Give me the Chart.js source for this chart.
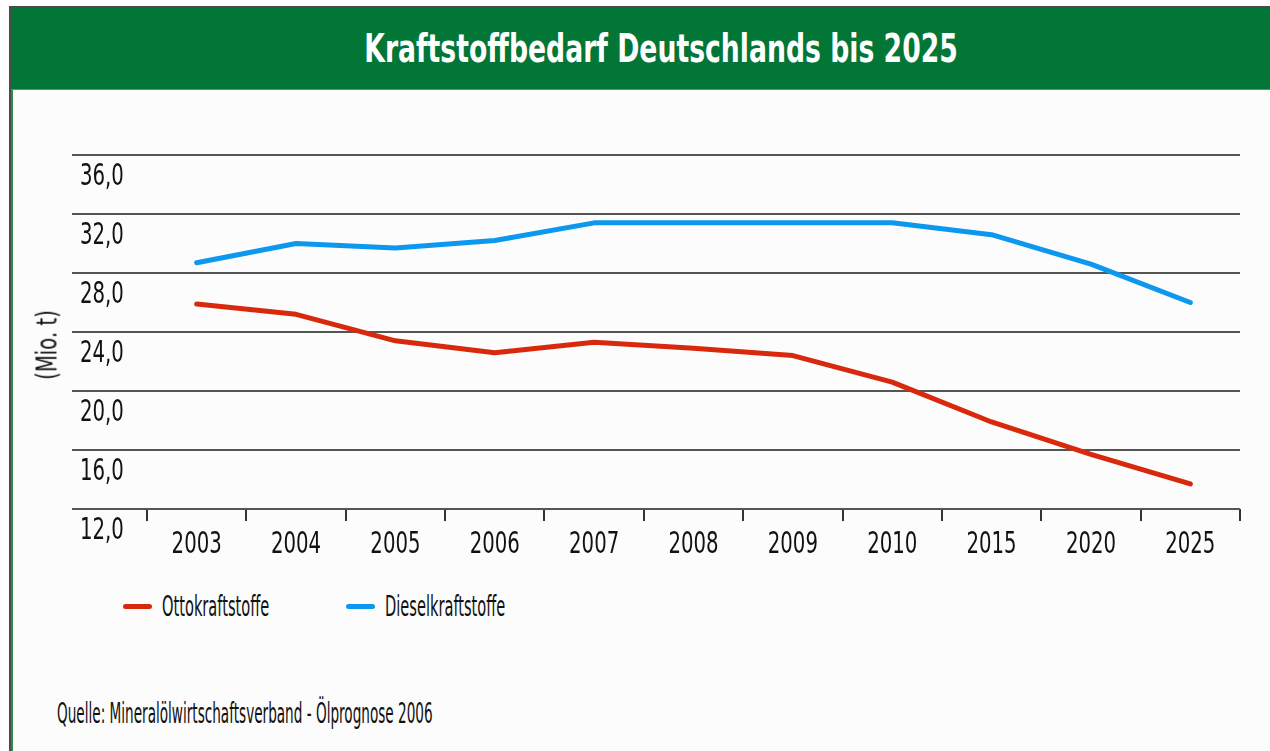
<!DOCTYPE html>
<html>
<head>
<meta charset="utf-8">
<script src="https://cdn.jsdelivr.net/npm/chart.js@4.4.1/dist/chart.umd.min.js"></script>
<style>
  body { margin: 0; background: #ffffff; width: 1270px; height: 751px; overflow: hidden; position: relative;
         font-family: 'DejaVu Sans Condensed', 'Liberation Sans Narrow', sans-serif; }
  #frame { position: absolute; left: 9px; top: 6px; right: 0; bottom: 0; background: #fcfcfc;
           border-top: 2px solid #4a4a4a; border-left: 2px solid #4a4a4a; }
  #greenline { position: absolute; left: 11px; top: 8px; bottom: 0; width: 2px; background: #2f8a4c; }
  #header { position: absolute; left: 11px; top: 8px; right: 0; height: 81px; background: #027636;
            border-bottom: 1px solid #4f9e6a; }
  #title { position: absolute; left: 650px; top: 18px; transform: translateX(-50%) scaleX(0.76); color: #fff;
           font-weight: bold; font-size: 39px; white-space: nowrap; }
  #box { position: absolute; left: 0; top: 0; width: 1270px; height: 580px; }
  #ytitle { position: absolute; left: 47px; top: 345px; transform: translate(-50%, -50%) rotate(-90deg) scaleX(0.78);
            font-size: 28px; color: #111; white-space: nowrap; }
  #legend { position: absolute; top: 587px; left: 123px; font-size: 29px; color: #111; }
  .item { position: absolute; white-space: nowrap; }
  .swatch { display: inline-block; width: 29px; height: 5px; border-radius: 3px; vertical-align: middle; margin-right: 10px; }
  .txt { display: inline-block; transform: scaleX(0.56); transform-origin: left center; vertical-align: middle; }
  #source { position: absolute; left: 57px; top: 697px; font-size: 28px; color: #111; white-space: nowrap;
            transform: scaleX(0.54); transform-origin: left center; }
</style>
</head>
<body>
<div id="frame"></div>
<div id="greenline"></div>
<div id="header"><div id="title">Kraftstoffbedarf Deutschlands bis 2025</div></div>
<div id="box"><canvas id="chart"></canvas></div>
<div id="ytitle">(Mio. t)</div>
<div id="legend"></div>
<div id="source">Quelle: Mineralölwirtschaftsverband - Ölprognose 2006</div>
<script>
const jahre = ['2003', '2004', '2005', '2006', '2007', '2008', '2009', '2010', '2015', '2020', '2025'];
const otto = [25.9, 25.2, 23.4, 22.6, 23.3, 22.9, 22.4, 20.6, 17.9, 15.7, 13.7];
const diesel = [28.7, 30.0, 29.7, 30.2, 31.4, 31.4, 31.4, 31.4, 30.6, 28.6, 26.0];
const serien = ['Ottokraftstoffe', 'Dieselkraftstoffe'];
const farben = ['#d8290c', '#0b98ee'];
const yTicks = [12, 16, 20, 24, 28, 32, 36];

const schrift = "'DejaVu Sans Condensed', 'Liberation Sans Narrow', sans-serif";

// the original uses a narrow typeface: squeeze canvas text horizontally
const schmal = {
  id: 'schmal',
  beforeDraw(chart) {
    const ctx = chart.ctx;
    const orig = CanvasRenderingContext2D.prototype.fillText;
    ctx.fillText = function (t, x, y) {
      return orig.call(this, t, x, y, this.measureText(t).width * 0.73);
    };
  },
  afterDraw(chart) {
    delete chart.ctx.fillText;
  }
};

const chart = new Chart(document.getElementById('chart'), {
  type: 'line',
  data: {
    labels: jahre,
    datasets: [
      { label: serien[0], data: otto, borderColor: farben[0], backgroundColor: farben[0] },
      { label: serien[1], data: diesel, borderColor: farben[1], backgroundColor: farben[1] }
    ]
  },
  options: {
    responsive: true,
    maintainAspectRatio: false,
    animation: false,
    events: [],
    layout: { padding: { left: 80, right: 30, top: 155, bottom: 11 } },
    elements: {
      line: { borderWidth: 5, tension: 0, borderCapStyle: 'round', borderJoinStyle: 'round' },
      point: { radius: 0 }
    },
    plugins: { legend: { display: false }, tooltip: { enabled: false } },
    scales: {
      x: {
        offset: true,
        grid: { offset: true, drawOnChartArea: false, drawTicks: true, tickLength: 12, color: '#333', lineWidth: 2 },
        border: { display: false },
        ticks: { color: '#111', font: { family: schrift, size: 30 }, padding: 6, maxRotation: 0 }
      },
      y: {
        min: 12,
        max: 36,
        afterBuildTicks: (s) => { s.ticks = yTicks.map(v => ({ value: v })); },
        afterFit: (s) => { s.width = 67; },
        grid: { color: '#555', lineWidth: 2, drawTicks: true, tickLength: 75 },
        border: { display: false },
        ticks: {
          color: '#111',
          font: { family: schrift, size: 30 },
          crossAlign: 'far',
          padding: 0,
          labelOffset: 22,
          callback: (v) => v.toFixed(1).replace('.', ',')
        }
      }
    }
  },
  plugins: [schmal]
});

// legend built from the dataset names and colours
const legend = document.getElementById('legend');
const xPos = [0, 223];
serien.forEach((name, i) => {
  const d = document.createElement('div');
  d.className = 'item';
  d.style.left = xPos[i] + 'px';
  d.innerHTML = '<span class="swatch" style="background:' + farben[i] + '"></span><span class="txt">' + name + '</span>';
  legend.appendChild(d);
});
</script>
</body>
</html>
